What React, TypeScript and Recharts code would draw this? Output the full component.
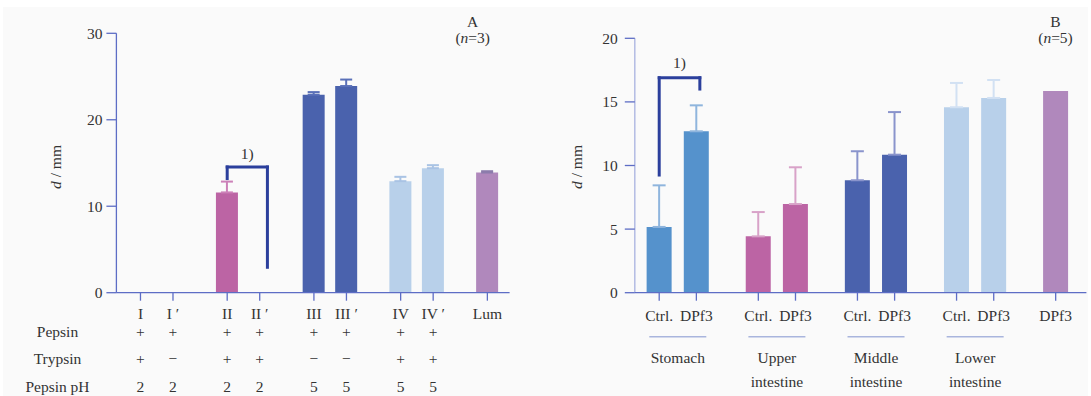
import React from 'react';
import { BarChart, Bar, XAxis, YAxis, ErrorBar, ReferenceLine } from 'recharts';

// ---------- Panel A data ----------
const labelsA = ['I', 'I ′', 'II', 'II ′', 'III', 'III ′', 'IV', 'IV ′', 'Lum'];
const valuesA = [0, 0, 11.6, 0, 22.9, 23.9, 12.9, 14.4, 13.9];
const errorsA = [0, 0, 1.25, 0, 0.3, 0.75, 0.5, 0.35, 0.15];
const groupOfA = [0, 0, 1, 1, 2, 2, 3, 3, 4];
const pepsinRow = ['+', '+', '+', '+', '+', '+', '+', '+', ''];
const trypsinRow = ['+', '−', '+', '+', '−', '−', '+', '+', ''];
const pepsinPhRow = ['2', '2', '2', '2', '5', '5', '5', '5', ''];
const rowNamesA = ['Pepsin', 'Trypsin', 'Pepsin pH'];
const yTicksA = [0, 10, 20, 30];
const bracketA = { from: 2, to: 3, top: 14.54, leftEnd: 13.2, rightEnd: 2.94, label: '1)' };

// ---------- Panel B data ----------
const labelsB = ['Ctrl.', 'DPf3', 'Ctrl.', 'DPf3', 'Ctrl.', 'DPf3', 'Ctrl.', 'DPf3', 'DPf3'];
const valuesB = [5.17, 12.69, 4.43, 6.97, 8.84, 10.85, 14.58, 15.31, 15.86];
const errorsB = [3.27, 2.04, 1.91, 2.89, 2.28, 3.35, 1.91, 1.41, 0];
const groupOfB = [0, 0, 1, 1, 2, 2, 3, 3, 4];
const regionsB = [['Stomach'], ['Upper', 'intestine'], ['Middle', 'intestine'], ['Lower', 'intestine']];
const yTicksB = [0, 5, 10, 15, 20];
const bracketB = { from: 0, to: 1, top: 16.9, leftEnd: 9.25, rightEnd: 16.01, label: '1)' };

// ---------- styles ----------
const FONT = '"Liberation Serif", "Times New Roman", serif';
const FS = 15.5;
const TXT = '#333333';
const AXIS = '#5d6dc5';
const AXIS_LIGHT = '#b3bbe3';
const BRACKET = '#2b3f9c';
const fillsA = ['#bc64a4', '#bc64a4', '#4a62ad', '#b8d0ea', '#b088bc'];
const errColA = ['#cc80b8', '#cc80b8', '#5a70b8', '#a9c3e4', '#8c7cac'];
const fillsB = ['#5592cc', '#bc64a4', '#4a62ad', '#b8d0ea', '#b088bc'];
const errColB = ['#8fb5dd', '#d8a2c8', '#8a94cc', '#d2e1f3', '#b088bc'];

// layout in slot units: group step 8 slots, pair step 3 slots
const GROUP_STEP = 8;
const PAIR_STEP = 3;
const LEAD_A = 2.22;
const SPAN_A = 36.27;
const LEAD_B = 1.97;
const SPAN_B = 36.45;
const GROUPS = [0, 1, 2, 3, 4];
const MAIN = 'amain';
const GRP = 'zgrp';

function buildRows(values: number[], errors: number[], groupOf: number[], lead: number) {
  const seen: Record<number, number> = {};
  return values.map((v, i) => {
    const g = groupOf[i];
    const member = seen[g] ?? 0;
    seen[g] = member + 1;
    const row: any = { x: lead + g * GROUP_STEP + member * PAIR_STEP };
    row['v' + g] = v;
    if (errors[i] > 0) row['e' + g] = [0, errors[i]];
    return row;
  });
}

const rowsA = buildRows(valuesA, errorsA, groupOfA, LEAD_A);
const rowsB = buildRows(valuesB, errorsB, groupOfB, LEAD_B);
const ticksA = rowsA.map((r) => r.x);
const ticksB = rowsB.map((r) => r.x);
const groupCentersB = regionsB.map((_, g) => LEAD_B + g * GROUP_STEP + PAIR_STEP / 2);

const txt = { fontFamily: FONT, fontSize: FS, fill: TXT } as const;

const TickA = (props: any) => {
  const { x, y, index } = props;
  const rows = [labelsA[index], pepsinRow[index], trypsinRow[index], pepsinPhRow[index]];
  const offs = [12.3, 31, 57.6, 85.3];
  return (
    <g>
      {rows.map((t, k) => (
        <text key={k} x={x} y={y + offs[k]} textAnchor="middle" dominantBaseline="central" {...txt}>
          {t}
        </text>
      ))}
    </g>
  );
};

const TickB = (props: any) => {
  const { x, y, index } = props;
  return (
    <text x={x} y={y + 14.3} textAnchor="middle" dominantBaseline="central" {...txt}>
      {labelsB[index]}
    </text>
  );
};

const GroupTickB = (props: any) => {
  const { x, y, index } = props;
  const lines = regionsB[index] || [];
  return (
    <g>
      <line x1={x - 28.5} x2={x + 28.5} y1={y + 14} y2={y + 14} stroke="#a9b5dd" strokeWidth={1.6} />
      {lines.map((t, k) => (
        <text key={k} x={x} y={y + 34.5 + k * 24} textAnchor="middle" dominantBaseline="central" {...txt}>
          {t}
        </text>
      ))}
    </g>
  );
};

function bracketLines(b: any, ticks: number[], rightShift: number, labelOffset: number) {
  const xl = ticks[b.from];
  const xr = ticks[b.to] + rightShift;
  const common = {
    xAxisId: MAIN,
    stroke: BRACKET,
    strokeWidth: 3,
    strokeLinecap: 'square' as const,
    ifOverflow: 'visible' as const,
  };
  return [
    <ReferenceLine key="bl" {...common} segment={[{ x: xl, y: b.leftEnd }, { x: xl, y: b.top }]} />,
    <ReferenceLine
      key="bt"
      {...common}
      segment={[{ x: xl, y: b.top }, { x: xr, y: b.top }]}
      label={{ value: b.label, position: 'top', offset: labelOffset, fill: TXT, fontSize: FS, fontFamily: FONT }}
    />,
    <ReferenceLine key="br" {...common} segment={[{ x: xr, y: b.top }, { x: xr, y: b.rightEnd }]} />,
  ];
}

// hidden axes: one per series (so bars do not shift side by side); zero height
function hiddenAxes(span: number) {
  const out: any[] = [];
  GROUPS.forEach((g) => {
    out.push(<XAxis key={'ea' + g} xAxisId={'e' + g} type="number" dataKey="x" domain={[0, span]} hide height={0} />);
    out.push(<XAxis key={'ga' + g} xAxisId={'g' + g} type="number" dataKey="x" domain={[0, span]} hide height={0} />);
  });
  return out;
}

// error bars drawn first on invisible bars, then the coloured bars on top
function seriesBars(fills: string[], errCols: string[], barSize: number, capHalf: number) {
  const errs = GROUPS.map((g) => (
    <Bar key={'eb' + g} xAxisId={'e' + g} dataKey={'v' + g} fill="none" barSize={barSize} isAnimationActive={false}>
      <ErrorBar dataKey={'e' + g} direction="y" width={capHalf} strokeWidth={2} stroke={errCols[g]} />
    </Bar>
  ));
  const bars = GROUPS.map((g) => (
    <Bar key={'b' + g} xAxisId={'g' + g} dataKey={'v' + g} fill={fills[g]} barSize={barSize} isAnimationActive={false} />
  ));
  return [...errs, ...bars];
}

function ChartA() {
  return (
    <BarChart width={545} height={396} data={rowsA} margin={{ top: 33.3, right: 35.4, bottom: 73.3, left: 0 }}>
      <YAxis
        domain={[0, 30]}
        ticks={yTicksA}
        interval={0}
        width={116.4}
        tickSize={10}
        tickMargin={4}
        axisLine={{ stroke: AXIS, strokeWidth: 1.3 }}
        tickLine={{ stroke: AXIS, strokeWidth: 1.3 }}
        tick={{ fontFamily: FONT, fontSize: FS, fill: TXT }}
      />
      <XAxis
        xAxisId={MAIN}
        type="number"
        dataKey="x"
        domain={[0, SPAN_A]}
        ticks={ticksA}
        interval={0}
        height={30}
        tickSize={8}
        tickMargin={0}
        axisLine={{ stroke: AXIS, strokeWidth: 1.3 }}
        tickLine={{ stroke: AXIS, strokeWidth: 1.3 }}
        tick={<TickA />}
      />
      {hiddenAxes(SPAN_A)}
      {seriesBars(fillsA, errColA, 22, 6)}
      {bracketLines(bracketA, ticksA, 0.71, 8)}
    </BarChart>
  );
}

function ChartB() {
  return (
    <BarChart width={546} height={396} data={rowsB} margin={{ top: 38.3, right: 4.6, bottom: 3.3, left: 0 }}>
      <YAxis
        domain={[0, 20]}
        ticks={yTicksB}
        interval={0}
        width={89.8}
        tickSize={10}
        tickMargin={7}
        axisLine={{ stroke: AXIS_LIGHT, strokeWidth: 1.5 }}
        tickLine={{ stroke: AXIS, strokeWidth: 1.3 }}
        tick={{ fontFamily: FONT, fontSize: FS, fill: TXT }}
      />
      <XAxis
        xAxisId={GRP}
        type="number"
        dataKey="x"
        domain={[0, SPAN_B]}
        ticks={groupCentersB}
        interval={0}
        height={70}
        tickSize={0}
        tickMargin={0}
        axisLine={false}
        tickLine={false}
        tick={<GroupTickB />}
      />
      <XAxis
        xAxisId={MAIN}
        type="number"
        dataKey="x"
        domain={[0, SPAN_B]}
        ticks={ticksB}
        interval={0}
        height={30}
        tickSize={8}
        tickMargin={0}
        axisLine={{ stroke: AXIS, strokeWidth: 1.3 }}
        tickLine={{ stroke: AXIS, strokeWidth: 1.3 }}
        tick={<TickB />}
      />
      {hiddenAxes(SPAN_B)}
      {seriesBars(fillsB, errColB, 25, 6.5)}
      {bracketLines(bracketB, ticksB, 0.28, 9.5)}
    </BarChart>
  );
}

export default function App() {
  return (
    <div style={{ position: 'absolute', left: 0, top: 0, width: 1091, height: 396, background: '#ffffff', overflow: 'hidden' }}>
      <div style={{ position: 'absolute', left: 3, top: 7, width: 1085, height: 389, background: '#fafafa' }} />
      <div style={{ position: 'absolute', left: 0, top: 0 }}>
        <ChartA />
      </div>
      <div style={{ position: 'absolute', left: 545, top: 0 }}>
        <ChartB />
      </div>
      <svg width={1091} height={396} style={{ position: 'absolute', left: 0, top: 0, pointerEvents: 'none' }}>
        {rowNamesA.map((n, k) => (
          <text key={n} x={57.5} y={[331.7, 358.3, 386][k]} textAnchor="middle" dominantBaseline="central" {...txt}>
            {n}
          </text>
        ))}
        <text transform="translate(55,167) rotate(-90)" textAnchor="middle" dominantBaseline="central" {...txt}>
          <tspan fontStyle="italic">d</tspan> / mm
        </text>
        <text transform="translate(576.3,167) rotate(-90)" textAnchor="middle" dominantBaseline="central" {...txt}>
          <tspan fontStyle="italic">d</tspan> / mm
        </text>
        <text x={472.7} y={21} textAnchor="middle" dominantBaseline="central" {...txt}>A</text>
        <text x={472.7} y={37} textAnchor="middle" dominantBaseline="central" {...txt}>
          (<tspan fontStyle="italic">n</tspan>=3)
        </text>
        <text x={1055.5} y={21} textAnchor="middle" dominantBaseline="central" {...txt}>B</text>
        <text x={1055.5} y={37} textAnchor="middle" dominantBaseline="central" {...txt}>
          (<tspan fontStyle="italic">n</tspan>=5)
        </text>
      </svg>
    </div>
  );
}
